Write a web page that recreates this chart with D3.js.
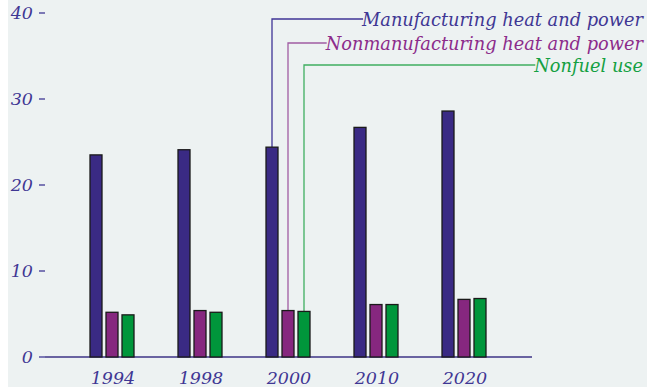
<!DOCTYPE html>
<html>
<head>
<meta charset="utf-8">
<script src="https://cdn.jsdelivr.net/npm/d3@7"></script>
<style>
  body { margin: 0; background: #fff; }
  text { font-family: "DejaVu Serif", serif; font-style: italic; }
</style>
</head>
<body>
<svg id="chart" width="647" height="387"></svg>
<script>
// data (quadrillion Btu, roughly)
var years = ['1994', '1998', '2000', '2010', '2020'];
var seriesNames = ['Manufacturing heat and power', 'Nonmanufacturing heat and power', 'Nonfuel use'];
var manufacturing = [23.5, 24.1, 24.4, 26.7, 28.6];
var nonmanufacturing = [5.2, 5.4, 5.4, 6.1, 6.7];
var nonfuel = [4.9, 5.2, 5.3, 6.1, 6.8];
var yTicks = [0, 10, 20, 30, 40];

var barColors = ['#3a2a84', '#86277f', '#00963b'];
var textColors = ['#3f3794', '#8c2c8b', '#14a042'];
var leaderColors = ['#3f3496', '#a05ca2', '#3fae60'];

var values = [manufacturing, nonmanufacturing, nonfuel];

var svg = d3.select('#chart');

svg.append('rect')
    .attr('x', 8).attr('y', 0)
    .attr('width', 639).attr('height', 387)
    .attr('fill', '#edf2f2');

var y = d3.scaleLinear().domain([0, 40]).range([357, 13]);
var x = d3.scaleBand().domain(years).range([69, 509]);
var xInner = d3.scaleBand().domain(d3.range(3)).range([-23, 21]).paddingInner(0.25);

// leader lines sit under everything else
var leaders = svg.append('g');

// y tick labels with little dashes
var yAxis = svg.append('g');
yAxis.selectAll('text')
    .data(yTicks)
    .enter().append('text')
    .attr('x', 33)
    .attr('y', function(d) { return y(d) + 6; })
    .attr('text-anchor', 'end')
    .attr('font-size', 17.5)
    .attr('fill', '#3f3794')
    .text(function(d) { return d; });
yAxis.selectAll('line')
    .data(yTicks)
    .enter().append('line')
    .attr('x1', 39).attr('x2', 45)
    .attr('y1', function(d) { return y(d); })
    .attr('y2', function(d) { return y(d); })
    .attr('stroke', '#3f3794')
    .attr('stroke-width', 1.3);

// baseline
svg.append('line')
    .attr('x1', 45).attr('x2', 532)
    .attr('y1', y(0)).attr('y2', y(0))
    .attr('stroke', '#3c3386')
    .attr('stroke-width', 1.5);

// bars
var groups = svg.selectAll('g.year')
    .data(years)
    .enter().append('g')
    .attr('class', 'year')
    .attr('transform', function(d) { return 'translate(' + (x(d) + x.bandwidth() / 2) + ',0)'; });

groups.selectAll('rect')
    .data(function(d, i) { return values.map(function(v, s) { return {s: s, v: v[i]}; }); })
    .enter().append('rect')
    .attr('x', function(d) { return xInner(d.s); })
    .attr('y', function(d) { return y(d.v); })
    .attr('width', xInner.bandwidth())
    .attr('height', function(d) { return y(0) - y(d.v); })
    .attr('fill', function(d) { return barColors[d.s]; })
    .attr('stroke', '#1a1a1a')
    .attr('stroke-width', 1.3);

// x labels
svg.selectAll('text.xlab')
    .data(years)
    .enter().append('text')
    .attr('class', 'xlab')
    .attr('x', function(d) { return x(d) + x.bandwidth() / 2; })
    .attr('y', 384)
    .attr('text-anchor', 'middle')
    .attr('font-size', 17.5)
    .attr('fill', '#3f3794')
    .text(function(d) { return d; });

// leader-line legend pointing to the 2000 bars
var legendY = [19, 43, 65];
var idx2000 = years.indexOf('2000');
seriesNames.forEach(function(name, s) {
    var bx = x('2000') + x.bandwidth() / 2 + xInner(s) + xInner.bandwidth() / 2;
    var by = y(values[s][idx2000]);
    var label = svg.append('text')
        .attr('x', 643)
        .attr('y', legendY[s] + 6.5)
        .attr('text-anchor', 'end')
        .attr('font-size', 17.8)
        .attr('fill', textColors[s])
        .text(name);
    var start = 643 - label.node().getComputedTextLength();
    leaders.append('path')
        .attr('d', 'M' + bx + ',' + by + 'V' + legendY[s] + 'H' + (start + 1))
        .attr('fill', 'none')
        .attr('stroke', leaderColors[s])
        .attr('stroke-width', 1.3);
});
</script>
</body>
</html>
